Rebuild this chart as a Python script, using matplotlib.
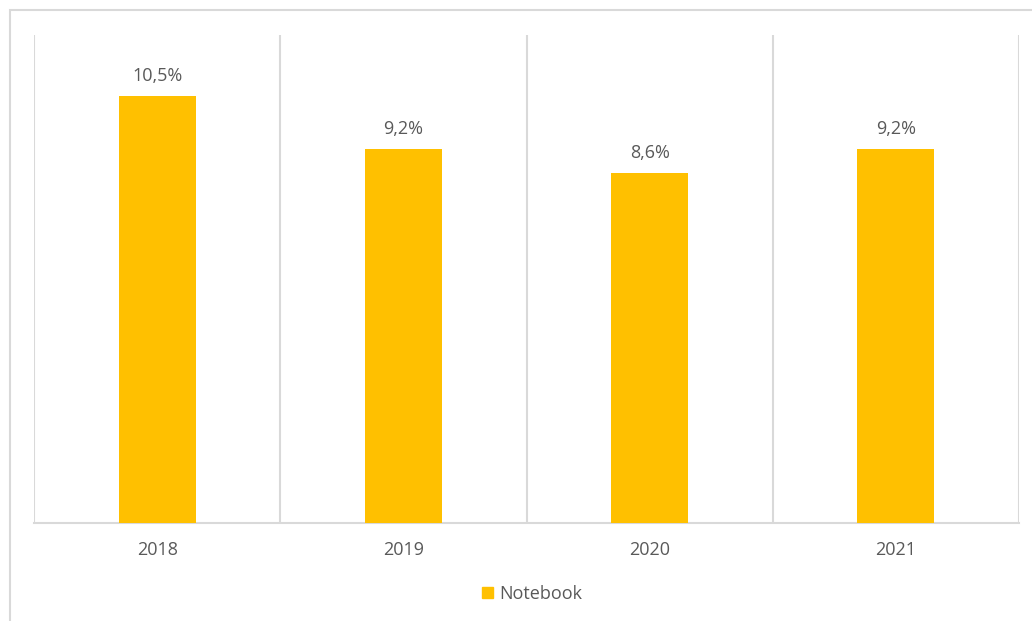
import matplotlib
matplotlib.use("Agg")
import matplotlib.pyplot as plt
from matplotlib.patches import Rectangle, Patch

categories = ["2018", "2019", "2020", "2021"]
values = [10.5, 9.2, 8.6, 9.2]
labels = ["10,5%", "9,2%", "8,6%", "9,2%"]
series_name = "Notebook"

W, H = 1032, 621
fig = plt.figure(figsize=(W / 100, H / 100), dpi=100)
plt.rcParams['font.family'] = ['Open Sans', 'DejaVu Sans']

# chart border (left and top visible, extends past image)
fig.add_artist(Rectangle((9.5 / W, -0.1), 1.2, (H - 9.5) / H + 0.1, transform=fig.transFigure,
                         fill=False, edgecolor="#d9d9d9", linewidth=1.5))

left, right, top, bottom = 34, 1019, 35, 523
ax = fig.add_axes([left / W, 1 - bottom / H, (right - left) / W, (bottom - top) / H])
x = list(range(len(categories)))
ax.bar(x, values, width=0.313, color="#FFC000", zorder=3)
ax.set_xlim(-0.5, len(categories) - 0.5)
ax.set_ylim(0, 12)

for xi, v, lab in zip(x, values, labels):
    ax.annotate(lab, (xi, v), xytext=(0, 8), textcoords="offset points",
                ha="center", va="bottom", fontsize=13, color="#595959")

for b in [i - 0.5 for i in range(len(categories) + 1)]:
    ax.axvline(b, color="#d9d9d9", linewidth=1.5, zorder=1)

for s in ["top", "right", "left"]:
    ax.spines[s].set_visible(False)
ax.spines["bottom"].set_color("#d9d9d9")
ax.spines["bottom"].set_linewidth(1.5)
ax.set_yticks([])
ax.set_xticks(x)
ax.set_xticklabels(categories, fontsize=13, color="#595959")
ax.tick_params(axis="x", length=0, pad=13)

fig.legend(handles=[Patch(color="#FFC000", label=series_name)], loc="center",
           bbox_to_anchor=(0.5155, 1 - 594 / H), frameon=False, fontsize=13,
           handlelength=0.62, handleheight=0.62, handletextpad=0.3,
           labelcolor="#595959")

fig.savefig("out.png", dpi=100)
